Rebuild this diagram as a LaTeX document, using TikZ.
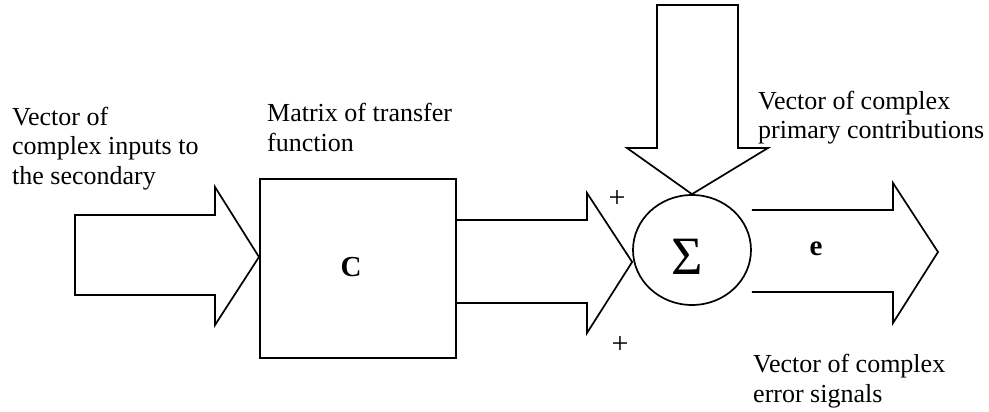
\documentclass[tikz,border=0pt]{standalone}
\usepackage{fontspec}
\setmainfont{Liberation Serif}
\usetikzlibrary{shapes.geometric}
\begin{document}
\begin{tikzpicture}[x=1pt,y=-1pt,
  blk/.style={draw=black,line width=1.7pt,line join=miter,miter limit=10},
  lbl/.style={font=\fontsize{26}{29.5}\selectfont,align=left,inner sep=0pt,anchor=base west},
  plus/.style={font=\fontsize{30}{30}\selectfont,inner sep=0pt}]
\useasboundingbox (0,0) rectangle (989,412);
% box C
\node[blk,rectangle,minimum width=196pt,minimum height=179pt,anchor=north west,inner sep=0pt] (C) at (259,178) {};
\node[font=\fontsize{29}{30}\selectfont\bfseries,inner sep=0pt] (Clab) at (351,267) {C};
% summing junction
\node[blk,ellipse,minimum width=118pt,minimum height=110pt,inner sep=0pt] (S) at (692,250) {};
\node[font=\fontsize{54}{54}\selectfont,inner sep=0pt] (sig) at (687,257) {Σ};
% input arrow
\draw[blk] (75,215) -- (215,215) -- (215,187) -- (C.west |- 0,257) -- (215,325) -- (215,295) -- (75,295) -- cycle;
% C output arrow
\draw[blk] (C.east |- 0,220) -- (587,220) -- (587,193) -- (S.west |- 0,262) -- (587,333) -- (587,303) -- (C.east |- 0,303);
% primary arrow
\draw[blk] (657,5) -- (738,5) -- (738,148) -- (768,148) -- (S.north) -- (627,148) -- (657,148) -- cycle;
% error arrow
\draw[blk] (S.east |- 0,210) -- (893,210) -- (893,183) -- (938,252) -- (893,323) -- (893,292) -- (S.east |- 0,292);
\node[font=\fontsize{29}{30}\selectfont\bfseries,inner sep=0pt] (elab) at (816,249) {e};
% signs
\node[plus] (p1) at (617,199) {+};
\node[plus] (p2) at (620,345) {+};
% labels (base anchor = baseline of last line)
\node[lbl] (in) at (12,184) {Vector of\\complex inputs to\\the secondary};
\node[lbl] (mat) at (267,151) {Matrix of transfer\\function};
\node[lbl] (prim) at (758,139) {Vector of complex\\primary contributions};
\node[lbl] (err) at (753,402) {Vector of complex\\error signals};
\end{tikzpicture}
\end{document}
